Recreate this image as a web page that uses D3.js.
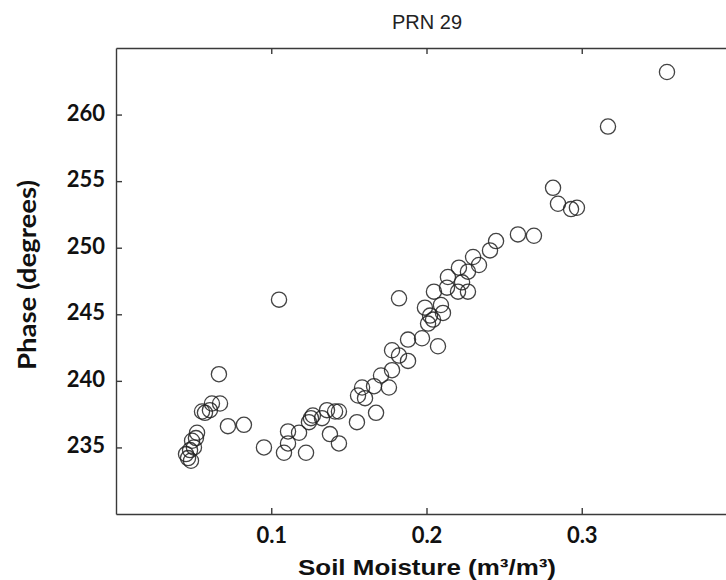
<!DOCTYPE html>
<html>
<head>
<meta charset="utf-8">
<script src="https://cdn.jsdelivr.net/npm/d3@7"></script>
<style>
  body { margin: 0; background: #fff; }
  svg { display: block; }
</style>
</head>
<body>
<div id="chart"></div>
<script>
// soil moisture (m3/m3) and phase (degrees)
const soilMoisture = [
  0.0451, 0.0464, 0.0483, 0.0477, 0.0502, 0.0490, 0.0515, 0.0522, 0.0554, 0.0573,
  0.0605, 0.0618, 0.0670, 0.0663, 0.0721, 0.0824, 0.0953, 0.1050, 0.1082, 0.1108,
  0.1108, 0.1179, 0.1224, 0.1243, 0.1256, 0.1268, 0.1327, 0.1359, 0.1378, 0.1411,
  0.1436, 0.1436, 0.1552, 0.1559, 0.1585, 0.1604, 0.1662, 0.1675, 0.1707, 0.1758,
  0.1778, 0.1778, 0.1823, 0.1823, 0.1881, 0.1881, 0.1971, 0.2074, 0.1990, 0.2023,
  0.2042, 0.2010, 0.2093, 0.2106, 0.2048, 0.2132, 0.2138, 0.2203, 0.2209, 0.2229,
  0.2267, 0.2267, 0.2300, 0.2338, 0.2409, 0.2448, 0.2589, 0.2692, 0.2815, 0.2847,
  0.2931, 0.2969, 0.3169, 0.3549
];
const phase = [
  234.5, 234.2, 234.0, 234.8, 235.0, 235.5, 235.7, 236.1, 237.7, 237.6,
  237.8, 238.3, 238.3, 240.5, 236.6, 236.7, 235.0, 246.1, 234.6, 235.3,
  236.2, 236.1, 234.6, 236.9, 237.2, 237.4, 237.2, 237.8, 236.0, 237.7,
  237.7, 235.3, 236.9, 238.9, 239.5, 238.7, 239.6, 237.6, 240.4, 239.5,
  240.8, 242.3, 241.9, 246.2, 241.5, 243.1, 243.2, 242.6, 245.5, 244.9,
  244.6, 244.3, 245.7, 245.1, 246.7, 247.0, 247.8, 246.7, 248.5, 247.4,
  246.7, 248.2, 249.3, 248.7, 249.8, 250.5, 251.0, 250.9, 254.5, 253.3,
  252.9, 253.0, 259.1, 263.2
];
const xTicks = [0.1, 0.2, 0.3];
const yTicks = [235, 240, 245, 250, 255, 260];

const width = 726;
const height = 580;
const margin = { top: 48, right: -11, bottom: 66, left: 116 }; // plot runs past the right edge

const data = soilMoisture.map((d, i) => ({ x: d, y: phase[i] }));

const svg = d3.select('#chart')
  .append('svg')
  .attr('width', width)
  .attr('height', height);

const x = d3.scaleLinear()
  .domain([0, 0.4])
  .range([margin.left, width - margin.right]);

const y = d3.scaleLinear()
  .domain([230, 265])
  .range([height - margin.bottom, margin.top]);

const tickFont = 'Lato, "Open Sans", sans-serif';

// bottom axis, ticks pointing inward
svg.append('g')
  .attr('transform', `translate(0,${height - margin.bottom})`)
  .call(d3.axisBottom(x)
    .tickValues(xTicks)
    .tickFormat(d3.format('.1f'))
    .tickSizeInner(-6)
    .tickSizeOuter(0)
    .tickPadding(13));

// top axis, ticks only
svg.append('g')
  .attr('transform', `translate(0,${margin.top})`)
  .call(d3.axisTop(x).tickValues(xTicks).tickSizeInner(-6).tickSizeOuter(0).tickFormat(''));

// left axis
const yAxis = svg.append('g')
  .attr('transform', `translate(${margin.left},0)`)
  .call(d3.axisLeft(y)
    .tickValues(yTicks)
    .tickSizeInner(-6)
    .tickSizeOuter(0)
    .tickPadding(11));

svg.selectAll('.domain, .tick line')
  .attr('stroke', '#3a3a3a')
  .attr('stroke-width', 1.4);

svg.selectAll('.tick text')
  .style('font-family', tickFont)
  .style('font-weight', 'bold')
  .style('font-size', '22px')
  .attr('fill', '#111');

yAxis.selectAll('.tick text').attr('dy', '0.25em');

// points
svg.append('g')
  .selectAll('circle')
  .data(data)
  .join('circle')
  .attr('cx', d => x(d.x))
  .attr('cy', d => y(d.y))
  .attr('r', 7.6)
  .attr('fill', 'none')
  .attr('stroke', '#222')
  .attr('stroke-opacity', 0.85)
  .attr('stroke-width', 1.3);

// title
svg.append('text')
  .attr('x', 427)
  .attr('y', 29)
  .attr('text-anchor', 'middle')
  .style('font-family', '"Liberation Sans", Arial, sans-serif')
  .style('font-size', '20px')
  .attr('fill', '#222')
  .text('PRN 29');

// x label
svg.append('text')
  .attr('x', 427)
  .attr('y', 575)
  .attr('text-anchor', 'middle')
  .attr('textLength', 258)
  .attr('lengthAdjust', 'spacingAndGlyphs')
  .style('font-family', '"Liberation Sans Narrow", "Arial Narrow", "Liberation Sans", sans-serif')
  .style('font-weight', 'bold')
  .style('font-size', '22px')
  .attr('fill', '#111')
  .text('Soil Moisture (m³/m³)');

// y label
svg.append('text')
  .attr('transform', 'translate(36,275) rotate(-90)')
  .attr('text-anchor', 'middle')
  .attr('textLength', 190)
  .attr('lengthAdjust', 'spacingAndGlyphs')
  .style('font-family', tickFont)
  .style('font-weight', 'bold')
  .style('font-size', '24px')
  .attr('fill', '#111')
  .text('Phase (degrees)');
</script>
</body>
</html>
